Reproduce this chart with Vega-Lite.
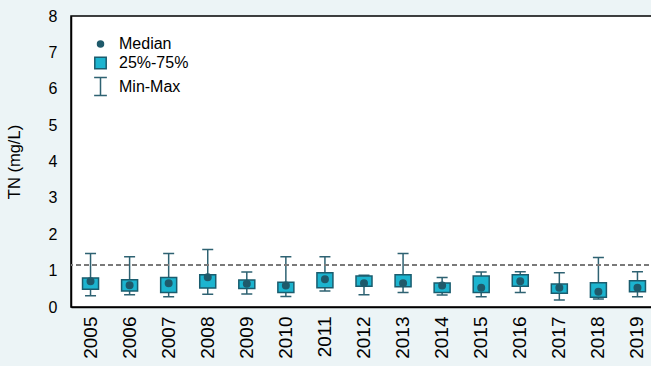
{
  "$schema": "https://vega.github.io/schema/vega-lite/v6.json",
  "autosize": {"type": "none"},
  "padding": {"left": 71, "top": 16, "right": 0, "bottom": 59},
  "width": 586,
  "height": 291,
  "background": "#ECF4F6",
  "config": {
    "font": "Liberation Sans",
    "view": {"stroke": "#000000", "strokeWidth": 1.5, "fill": "#FFFFFF"},
    "axis": {"grid": false, "ticks": false, "domainColor": "#000000", "domainWidth": 1.5, "labelColor": "#000000", "titleColor": "#000000", "labelFont": "Liberation Sans", "titleFont": "Liberation Sans"}
  },
  "data": {
    "values": [
      {"year": "2005", "min": 0.31, "q1": 0.49, "median": 0.71, "q3": 0.80, "max": 1.47},
      {"year": "2006", "min": 0.34, "q1": 0.44, "median": 0.60, "q3": 0.75, "max": 1.38},
      {"year": "2007", "min": 0.28, "q1": 0.40, "median": 0.65, "q3": 0.81, "max": 1.47},
      {"year": "2008", "min": 0.35, "q1": 0.52, "median": 0.82, "q3": 0.89, "max": 1.58},
      {"year": "2009", "min": 0.36, "q1": 0.51, "median": 0.64, "q3": 0.74, "max": 0.96},
      {"year": "2010", "min": 0.29, "q1": 0.40, "median": 0.59, "q3": 0.68, "max": 1.38},
      {"year": "2011", "min": 0.44, "q1": 0.53, "median": 0.76, "q3": 0.94, "max": 1.38},
      {"year": "2012", "min": 0.34, "q1": 0.57, "median": 0.65, "q3": 0.85, "max": 0.87},
      {"year": "2013", "min": 0.40, "q1": 0.56, "median": 0.65, "q3": 0.89, "max": 1.47},
      {"year": "2014", "min": 0.33, "q1": 0.40, "median": 0.59, "q3": 0.66, "max": 0.81},
      {"year": "2015", "min": 0.28, "q1": 0.40, "median": 0.53, "q3": 0.85, "max": 0.96},
      {"year": "2016", "min": 0.40, "q1": 0.57, "median": 0.71, "q3": 0.89, "max": 0.97},
      {"year": "2017", "min": 0.19, "q1": 0.38, "median": 0.53, "q3": 0.63, "max": 0.94},
      {"year": "2018", "min": 0.22, "q1": 0.27, "median": 0.42, "q3": 0.67, "max": 1.36},
      {"year": "2019", "min": 0.28, "q1": 0.42, "median": 0.53, "q3": 0.72, "max": 0.97}
    ]
  },
  "layer": [
    {
      "mark": {"type": "rule", "color": "#2E6272", "strokeWidth": 1.5},
      "encoding": {
        "x": {
          "field": "year", "type": "nominal", "title": null,
          "scale": {"paddingInner": 0, "paddingOuter": 0},
          "axis": {"labelAngle": 270, "labelFontSize": 19, "labelPadding": 9, "labelAlign": "right", "labelBaseline": "middle"}
        },
        "y": {"field": "min", "type": "quantitative", "scale": {"domain": [0, 8]},
          "axis": {"tickCount": 8, "labelFontSize": 16, "labelPadding": 14, "title": "TN  (mg/L)", "titleFontSize": 16.5, "titleFontWeight": "normal", "titlePadding": 26}},
        "y2": {"field": "max"}
      }
    },
    {
      "mark": {"type": "bar", "width": 11, "stroke": "#2E6272", "strokeWidth": 1.5},
      "encoding": {"x": {"field": "year", "type": "nominal"}, "y": {"field": "min", "type": "quantitative"}, "y2": {"field": "min"}}
    },
    {
      "mark": {"type": "bar", "width": 11, "stroke": "#2E6272", "strokeWidth": 1.5},
      "encoding": {"x": {"field": "year", "type": "nominal"}, "y": {"field": "max", "type": "quantitative"}, "y2": {"field": "max"}}
    },
    {
      "mark": {"type": "bar", "width": 16, "fill": "#1CB4CF", "stroke": "#1A5C6E", "strokeWidth": 1.5},
      "encoding": {"x": {"field": "year", "type": "nominal"}, "y": {"field": "q1", "type": "quantitative"}, "y2": {"field": "q3"}}
    },
    {
      "mark": {"type": "point", "filled": true, "opacity": 1},
      "encoding": {
        "x": {"field": "year", "type": "nominal"},
        "y": {"field": "median", "type": "quantitative"},
        "shape": {"datum": "Median", "type": "nominal",
          "scale": {"domain": ["Median", "25%-75%", "Min-Max"], "range": ["circle", "square", "M-0.85,-1.2H0.85M0,-1.2V1.2M-0.85,1.2H0.85"]},
          "legend": {"title": null, "orient": "none", "legendX": 21, "legendY": 20, "labelFontSize": 16, "labelColor": "#000000", "labelOffset": 10, "rowPadding": 2, "symbolStrokeWidth": 1.5, "labelFont": "Liberation Sans"}},
        "fill": {"datum": "Median", "type": "nominal",
          "scale": {"domain": ["Median", "25%-75%", "Min-Max"], "range": ["#1F5A6B", "#1CB4CF", "transparent"]}},
        "stroke": {"datum": "Median", "type": "nominal",
          "scale": {"domain": ["Median", "25%-75%", "Min-Max"], "range": ["#1F5A6B", "#1A5C6E", "#2E6272"]}},
        "size": {"datum": "Median", "type": "nominal",
          "scale": {"domain": ["Median", "25%-75%", "Min-Max"], "range": [36, 225, 225]}}
      }
    },
    {
      "mark": {"type": "rule", "color": "#7A7A7A", "strokeDash": [5, 3], "strokeWidth": 1.1},
      "encoding": {"y": {"datum": 1.15, "type": "quantitative"}}
    }
  ]
}
